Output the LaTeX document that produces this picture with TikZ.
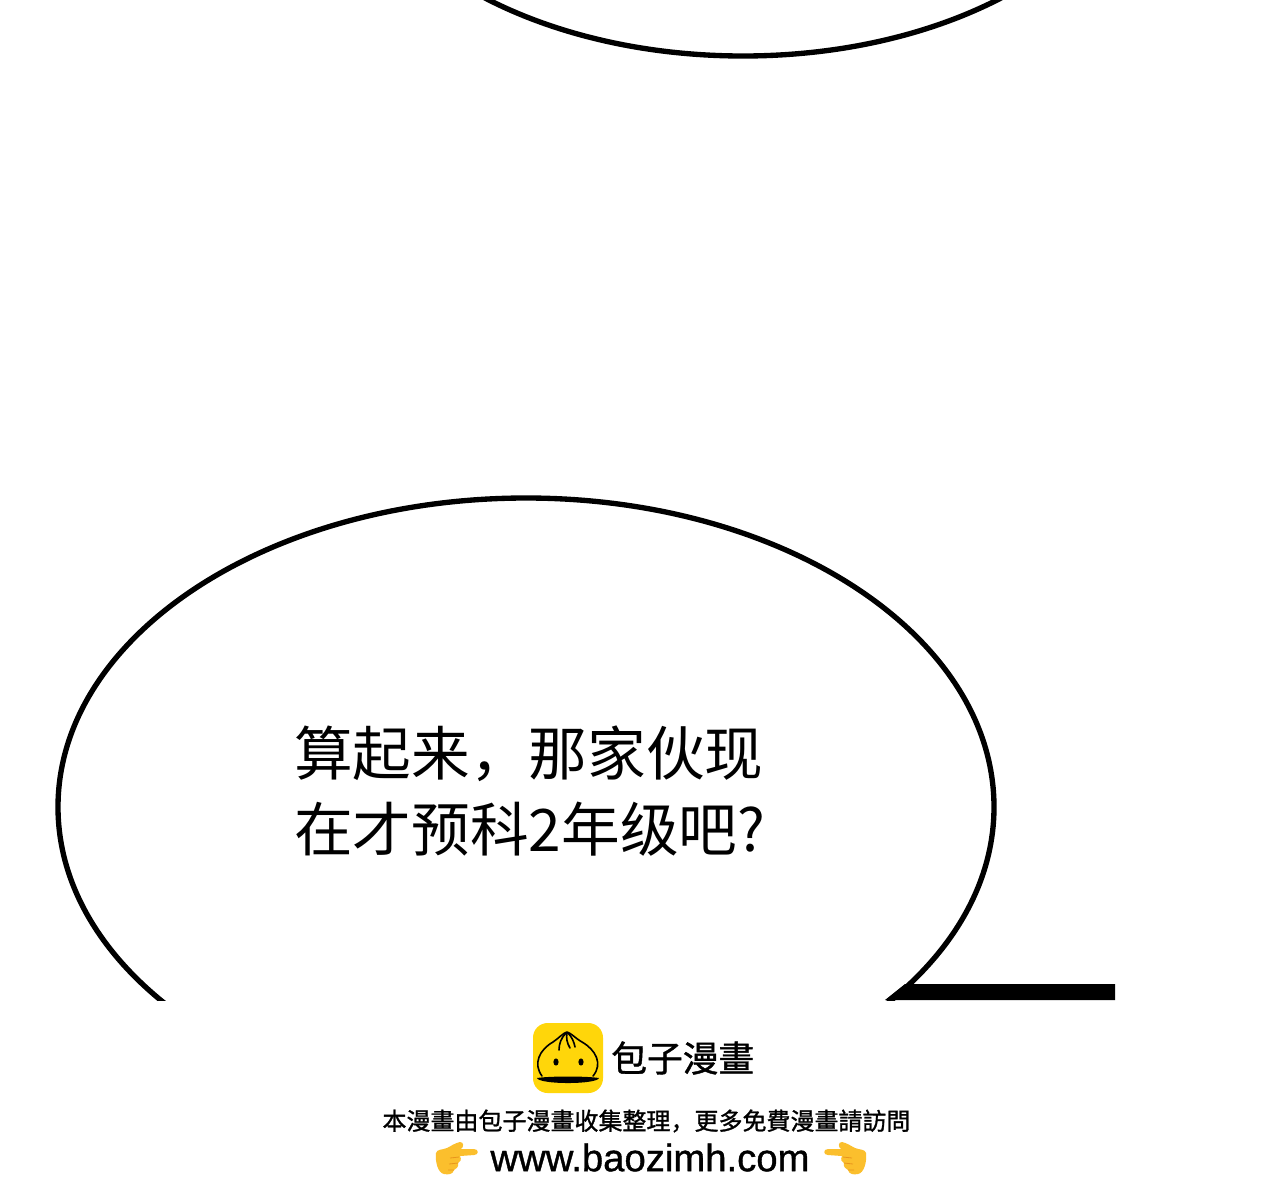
\documentclass[tikz,border=0pt]{standalone}
\usepackage{fontspec}
\setmainfont{Liberation Sans}
\newfontfamily\cjk{Noto Sans CJK SC}
\newfontfamily\cjkm[FakeBold=1.2]{Noto Sans CJK SC}
\newfontfamily\urlfont[FakeBold=1]{Liberation Sans}
\definecolor{bunyellow}{HTML}{FFD60A}
\definecolor{handyellow}{HTML}{FBBF2D}
\definecolor{handdark}{HTML}{E8951C}
\tikzset{
 px/.style={x=0.75pt,y=-0.75pt},
 bubble/.style={draw=black,line width=4pt,fill=white},
 speech/.style={font=\cjk\fontsize{44pt}{57pt}\selectfont,align=left,anchor=north west,inner sep=0pt,text=black},
 bunline/.style={draw=black,line width=1.2pt,line cap=round,line join=round},
 hand/.pic={
  \fill[handyellow] (0,9) .. controls (1,5) and (6,6) .. (11,4)
    .. controls (15,2) and (19,-1) .. (24,-2)
    .. controls (28,-2) and (28,3) .. (25,5)
    -- (38,5) .. controls (43,5) and (43,11) .. (38,11)
    -- (24,12)
    .. controls (26,16) and (24,18) .. (22,19)
    .. controls (23,23) and (20,25) .. (18,26)
    .. controls (17,30) and (13,31) .. (8,30)
    .. controls (2,29) and (-1,18) .. (0,9) -- cycle;
  \draw[handdark,line width=0.6pt] (14,14) -- (23,13) (13,20) -- (22,19) (12,26) -- (18,26);
 },
}
\begin{document}
\begin{tikzpicture}[px]
\useasboundingbox (0,0) rectangle (1280,1200);
\fill[white] (0,0) rectangle (1280,1200);
\draw[bubble] (743,-190) ellipse [x radius=400,y radius=246];
\begin{scope}
\clip (0,0) rectangle (1280,1000);
\draw[bubble] (526,807) ellipse [x radius=468,y radius=309];
\end{scope}
\fill[black] (905,984) -- (1115,984) -- (1115,1000) -- (885,1000) -- cycle;
\node[speech] (t) at (294,726) {算起来，那家伙现\\在才预科2年级吧?};
% logo
\fill[bunyellow,rounded corners=11pt] (533,1023) rectangle (603,1093);
\draw[bunline] (542,1076) .. controls (533,1064) and (539,1050) .. (553,1042)
  .. controls (559,1038) and (563,1033) .. (567,1032)
  .. controls (571,1033) and (575,1038) .. (582,1042)
  .. controls (596,1050) and (603,1064) .. (593,1076);
\draw[bunline] (566,1033) .. controls (561,1038) and (559,1044) .. (559,1050);
\draw[bunline] (567,1033) .. controls (566,1038) and (567,1043) .. (570,1048);
\draw[bunline] (568,1033) .. controls (572,1037) and (574,1042) .. (575,1047);
\fill[black] (556,1062) ellipse [x radius=2.6,y radius=3.6];
\fill[black] (581,1062) ellipse [x radius=2.6,y radius=3.6];
\fill[black] (537,1078) .. controls (550,1076) and (586,1076) .. (599,1078)
  .. controls (598,1081) and (585,1083) .. (568,1083)
  .. controls (551,1083) and (538,1081) .. (537,1078) -- cycle;
\node[font=\cjkm\fontsize{26.8pt}{30pt}\selectfont,anchor=west,inner sep=0pt] (b) at (611,1058) {包子漫畫};
\node[font=\cjkm\fontsize{18pt}{22pt}\selectfont,anchor=center,inner sep=0pt] (c) at (646.5,1121) {本漫畫由包子漫畫收集整理，更多免費漫畫請訪問};
\node[font=\urlfont\fontsize{28.7pt}{32pt}\selectfont,anchor=center,inner sep=0pt] (u) at (650,1157.5) {www.baozimh.com};
\pic at (436,1144) {hand};
\pic[xscale=-1] at (866,1144) {hand};
\end{tikzpicture}
\end{document}
